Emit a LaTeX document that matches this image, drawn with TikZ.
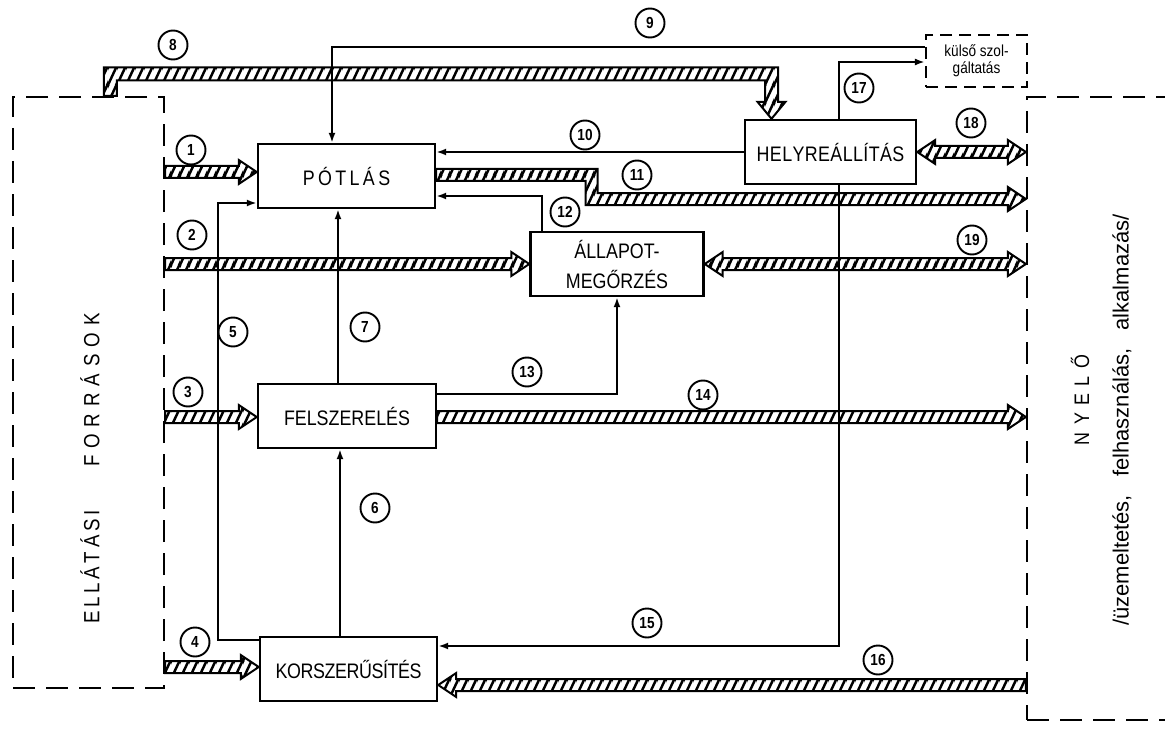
\documentclass[tikz,border=0pt]{standalone}
\usepackage{fontspec}
\setmainfont{Liberation Sans}
\newfontfamily\lab[FakeStretch=0.85]{Liberation Sans}
\usetikzlibrary{patterns.meta,arrows.meta,calc}
\makeatletter
\newcommand\lsp[2]{\def\lsp@k{#1}\let\lsp@pre\relax\@tfor\lsp@c:=#2\do{\lsp@pre\lsp@c\def\lsp@pre{\kern\lsp@k}}}
\makeatother
\tikzdeclarepattern{
  name=hatch,
  type=uncolored,
  bounding box={(0pt,0pt) and (9pt,18pt)},
  tile size={(9pt,18pt)},
  code={
    \draw[line width=2.7pt] (-2pt,-4pt) -- (11pt,22pt) (-3pt,12pt) -- (3pt,24pt) (6pt,-6pt) -- (12pt,6pt);
  }
}
\tikzset{
  box/.style={draw, line width=2.4pt, minimum width=177pt, minimum height=64pt, inner sep=0pt, align=center, font=\lab\fontsize{21}{30}\selectfont},
  dbox/.style={draw, line width=2.2pt, dash pattern=on 22pt off 11pt, inner sep=0pt},
  num/.style={circle, draw, line width=1.9pt, minimum size=29pt, inner sep=0pt, font=\lab\bfseries\fontsize{16}{16}\selectfont},
  conn/.style={line width=2pt, -{Latex[length=10pt,width=7pt]}},
  band/.style={draw, line width=2pt, line join=miter, preaction={fill=white}, pattern=hatch, pattern color=black},
  vlabel/.style={rotate=90, inner sep=0pt}
}
% #1 start, #2 tip, #3 head base offset (-18 tip right, 18 tip left)
\newcommand\harr[3]{%
  \draw[band] ($(#1)+(0,-6)$) -- ($(#2)+(#3,-6)$) -- ($(#2)+(#3,-12)$) -- (#2) -- ($(#2)+(#3,12)$) -- ($(#2)+(#3,6)$) -- ($(#1)+(0,6)$) -- cycle;}
\newcommand\hdbl[2]{%
  \draw[band] ($(#1)+(18,-6)$) -- ($(#2)+(-18,-6)$) -- ($(#2)+(-18,-12)$) -- (#2) -- ($(#2)+(-18,12)$) -- ($(#2)+(-18,6)$) -- ($(#1)+(18,6)$) -- ($(#1)+(18,12)$) -- (#1) -- ($(#1)+(18,-12)$) -- cycle;}
\begin{document}
\begin{tikzpicture}[x=1pt,y=-1pt]
\useasboundingbox (0,0) rectangle (1165,733);
\fill[white] (0,0) rectangle (1165,733);

% outer dashed boxes
\node[dbox, minimum width=151pt, minimum height=591pt] (ell) at (88.5,392.5) {};
\node[dbox, minimum width=160pt, minimum height=623pt] (nye) at (1107,408.5) {};
\node[dbox, dash pattern=on 12pt off 7pt, minimum width=101pt, minimum height=52pt, align=center, font=\lab\fontsize{16}{17}\selectfont] (kulso) at (976.5,61) {külső szol-\\gáltatás};

% boxes
\node[box] (pot) at (346.5,176) {\lsp{3.4pt}{PÓTLÁS}};
\node[box, minimum width=173pt] (all) at (617,264) {ÁLLAPOT-\\MEGŐRZÉS};
\node[box, minimum width=171pt] (hely) at (830.5,152) {\lsp{0.4pt}{HELYREÁLLÍTÁS}};
\node[box, minimum width=178pt] (fel) at (347,416) {FELSZERELÉS};
\node[box] (kor) at (348.5,669) {\lsp{-0.4pt}{KORSZERŰSÍTÉS}};

% vertical texts
\node[vlabel, font=\lab\fontsize{22}{22}\selectfont] (tell) at (90,567) {\lsp{3.7pt}{ELLÁTÁSI}};
\node[vlabel, font=\lab\fontsize{22}{22}\selectfont] (tfor) at (90,390) {\lsp{7pt}{FORRÁSOK}};
\node[vlabel, font=\lab\fontsize{21}{21}\selectfont] (tnye) at (1080,400) {\lsp{7.5pt}{NYELŐ}};
\node[vlabel, font=\fontsize{22}{22}\selectfont] (tuz) at (1122,420) {/üzemeltetés,\hspace{12pt} felhasználás,\hspace{12pt} alkalmazás/};

% hatched arrows
\coordinate (a1e) at ($(pot.west)+(0,-4)$); \coordinate (a1s) at (ell.east |- a1e);
\harr{a1s}{a1e}{-18}
\coordinate (a2e) at (all.west); \coordinate (a2s) at (ell.east |- a2e);
\harr{a2s}{a2e}{-18}
\coordinate (a3e) at ($(fel.west)+(0,1)$); \coordinate (a3s) at (ell.east |- a3e);
\harr{a3s}{a3e}{-18}
\coordinate (a4e) at ($(kor.west)+(0,-2)$); \coordinate (a4s) at (ell.east |- a4e);
\harr{a4s}{a4e}{-18}
\coordinate (a14s) at ($(fel.east)+(0,1)$); \coordinate (a14e) at (nye.west |- a14s);
\harr{a14s}{a14e}{-18}
\coordinate (a16e) at ($(kor.east)+(0,16)$); \coordinate (a16s) at (nye.west |- a16e);
\harr{a16s}{a16e}{18}
\coordinate (a18e) at (nye.west |- hely.east);
\hdbl{hely.east}{a18e}
\coordinate (a19e) at (nye.west |- all.east);
\hdbl{all.east}{a19e}

% arrow 8 (L-shaped)
\coordinate (b8s) at ($(ell.north west)+(98.5,0)$);
\coordinate (b8e) at ($(hely.north)+(-59,0)$);
\coordinate (b8c) at (b8s |- 0,74);
\coordinate (b8d) at (b8e |- b8c);
\draw[band] ($(b8s)+(-6.5,0)$) -- ($(b8c)+(-6.5,-6.5)$) -- ($(b8d)+(6.5,-6.5)$) -- ($(b8e)+(6.5,-17)$) -- ($(b8e)+(14,-17)$) -- (b8e) -- ($(b8e)+(-14,-17)$) -- ($(b8e)+(-6.5,-17)$) -- ($(b8d)+(-6.5,6.5)$) -- ($(b8c)+(6.5,6.5)$) -- ($(b8s)+(6.5,0)$) -- cycle;

% arrow 11 (stepped)
\coordinate (b11s) at ($(pot.east)+(0,-1)$);
\coordinate (b11a) at (591.5,175);
\coordinate (b11b) at (591.5,199);
\coordinate (b11e) at (nye.west |- b11b);
\draw[band] ($(b11s)+(0,-6)$) -- ($(b11a)+(6,-6)$) -- ($(b11b)+(6,-6)$) -- ($(b11e)+(-18,-6)$) -- ($(b11e)+(-18,-12)$) -- (b11e) -- ($(b11e)+(-18,12)$) -- ($(b11e)+(-18,6)$) -- ($(b11b)+(-6,6)$) -- ($(b11a)+(-6,6)$) -- ($(b11s)+(0,6)$) -- cycle;

% thin connectors
\draw[conn] ($(kulso.west)+(0,-14)$) -| ($(pot.north)+(-14.5,0)$);
\draw[conn] (hely.west) -- (pot.east |- hely.west);
\draw[conn] ($(all.north west)+(13,0)$) |- ($(pot.east)+(0,20)$);
\draw[conn] ($(kor.north west)+(0,4)$) -- ($(kor.north west)+(-41,4)$) |- ($(pot.west)+(0,27)$);
\draw[conn] ($(fel.north)+(-9,0)$) -- ($(pot.south)+(-8.5,0)$);
\draw[conn] ($(kor.north)+(-8.5,0)$) -- ($(fel.south)+(-7,0)$);
\draw[conn] ($(fel.east)+(0,-22)$) -| (all.south);
\draw[conn] ($(hely.south)+(8.5,0)$) |- ($(kor.east)+(0,-23)$);
\draw[conn] ($(hely.north)+(8.5,0)$) |- ($(kulso.west)+(0,1)$);

% numbers
\node[num] (n1) at (191,150) {1};
\node[num] (n2) at (192,235) {2};
\node[num] (n3) at (188,392) {3};
\node[num] (n4) at (195,642) {4};
\node[num] (n5) at (233,332) {5};
\node[num] (n6) at (375,508) {6};
\node[num] (n7) at (365,327) {7};
\node[num] (n8) at (173,45) {8};
\node[num] (n9) at (650,23) {9};
\node[num] (n10) at (585,135) {10};
\node[num] (n11) at (637,175) {11};
\node[num] (n12) at (565,212) {12};
\node[num] (n13) at (527,372) {13};
\node[num] (n14) at (703,395) {14};
\node[num] (n15) at (647,623) {15};
\node[num] (n16) at (878,660) {16};
\node[num] (n17) at (859,88) {17};
\node[num] (n18) at (971,123) {18};
\node[num] (n19) at (972,240) {19};
\end{tikzpicture}
\end{document}
